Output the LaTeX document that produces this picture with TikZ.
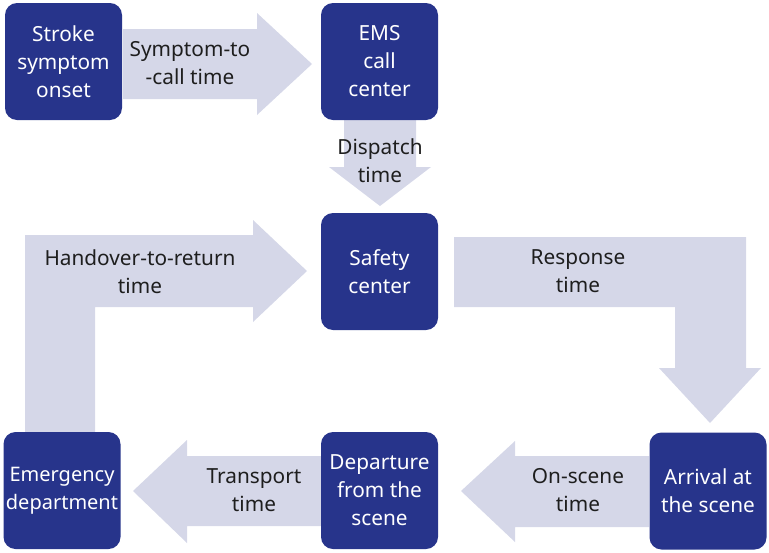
\documentclass[tikz,border=0pt]{standalone}
\usepackage{fontspec}
\setmainfont{Noto Sans}
\definecolor{boxblue}{HTML}{27348B}
\definecolor{arrowfill}{HTML}{D5D7E8}
\definecolor{txt}{HTML}{1E1E1E}
\begin{document}
\begin{tikzpicture}[x=1pt,y=-1pt,
  box/.style={fill=boxblue, rounded corners=12pt, minimum width=117pt, minimum height=117pt, text=white, align=center, font=\fontsize{20.8}{28}\selectfont, inner sep=0pt},
  blk/.style={fill=arrowfill, draw=none},
  lbl/.style={text=txt, align=center, font=\fontsize{20.8}{28}\selectfont, inner sep=0pt}]
\useasboundingbox (0,0) rectangle (769,552);
% block arrows
\fill[blk] (123,29) -- (257,29) -- (257,13) -- (312,64) -- (257,115) -- (257,99) -- (123,99) -- cycle;
\fill[blk] (344,120) -- (416,120) -- (416,167) -- (431,167) -- (380,206) -- (329,167) -- (344,167) -- cycle;
\fill[blk] (454,237) -- (746,237) -- (746,368) -- (761,368) -- (710,423) -- (659,368) -- (675,368) -- (675,307) -- (454,307) -- cycle;
\fill[blk] (649,456) -- (515,456) -- (515,441) -- (461,491) -- (515,542) -- (515,527) -- (649,527) -- cycle;
\fill[blk] (321,456) -- (187,456) -- (187,440) -- (133,491) -- (187,543) -- (187,526) -- (321,526) -- cycle;
\fill[blk] (25,432) -- (25,235) -- (253,235) -- (253,220) -- (307,271) -- (253,322) -- (253,307) -- (95,307) -- (95,432) -- cycle;
% boxes
\node[box] (onset) at (63.5,61.5) {Stroke\\symptom\\onset};
\node[box] (ems) at (379.5,61.5) {EMS\\call\\center};
\node[box] (safety) at (379.5,271.5) {Safety\\center};
\node[box, font=\fontsize{20}{28}\selectfont] (ed) at (62,490.5) {Emergency\\department};
\node[box] (depart) at (379.5,490.5) {Departure\\from the\\scene};
\node[box] (arrive) at (708,491) {Arrival at\\the scene};
% labels
\node[lbl] (l1) at (190,63.5) {Symptom-to\\-call time};
\node[lbl] (l2) at (380,160.5) {Dispatch\\time};
\node[lbl] (l3) at (578,271.5) {Response\\time};
\node[lbl] (l4) at (140,271.5) {Handover-to-return\\time};
\node[lbl] (l5) at (254,490.5) {Transport\\time};
\node[lbl] (l6) at (578,490.5) {On-scene\\time};
\end{tikzpicture}
\end{document}
